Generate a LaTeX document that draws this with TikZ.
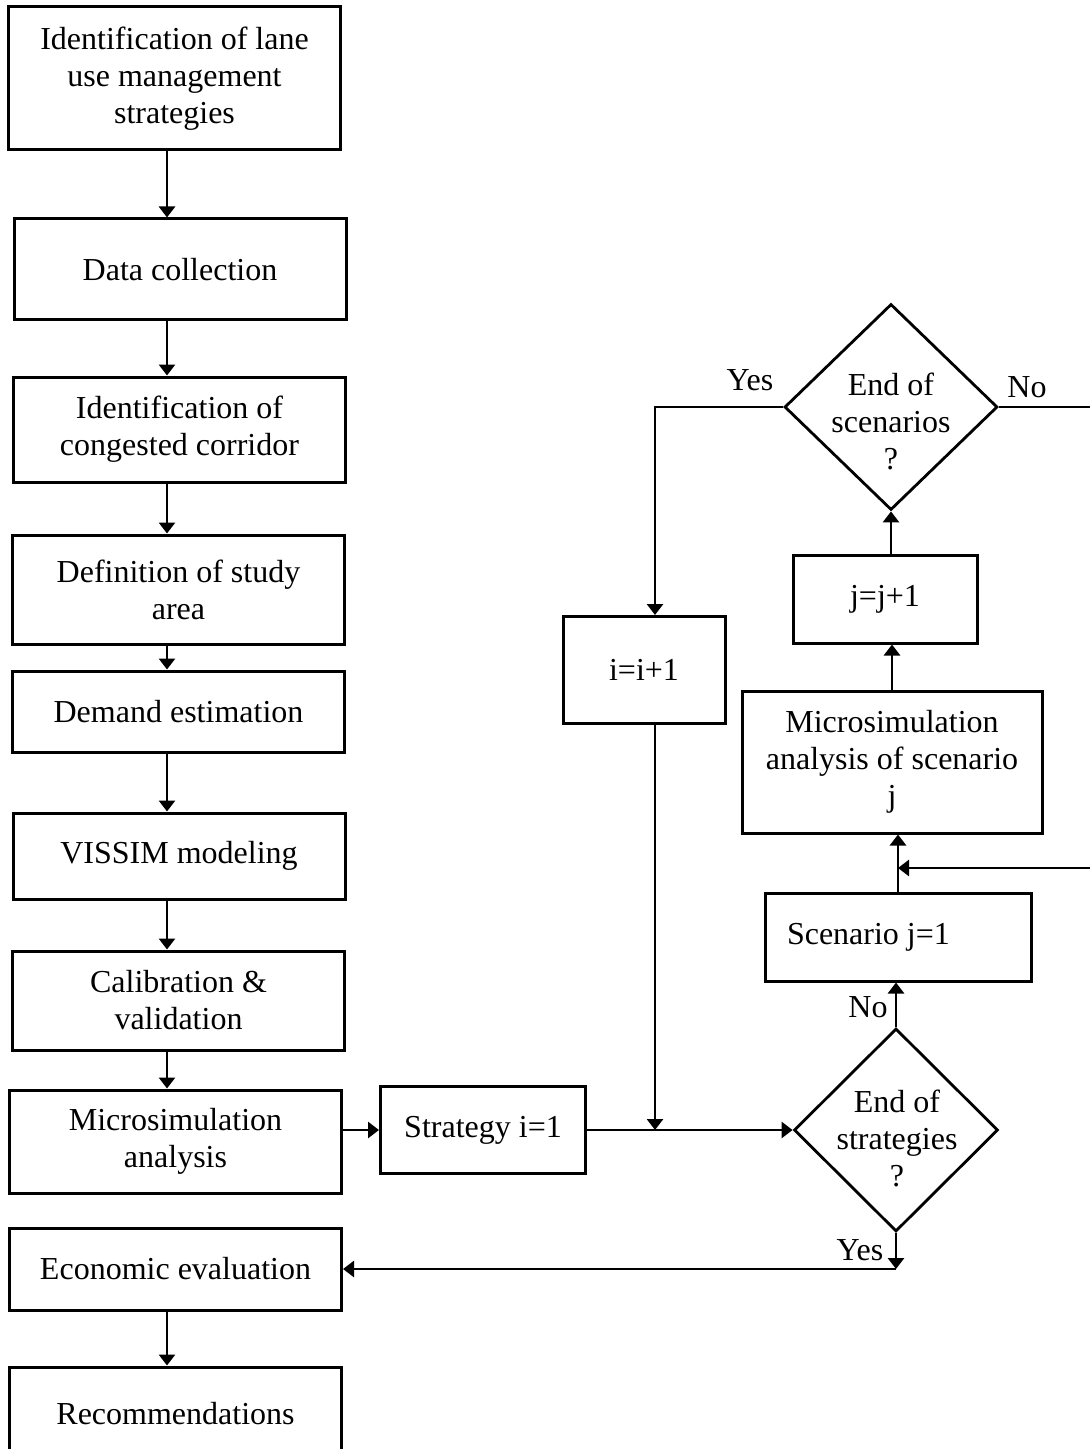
\documentclass[tikz,border=0pt]{standalone}
\usepackage{fontspec}
\setmainfont{Liberation Serif}
\usetikzlibrary{shapes.geometric,arrows.meta}
\tikzset{
  box/.style={draw,line width=1.5pt,minimum width=166pt,inner sep=0pt,align=center},
  dec/.style={draw,diamond,line width=1.4pt,inner sep=0pt},
  arr/.style={line width=1.4pt,-{Triangle[length=5.5pt,width=8pt]}}
}
\begin{document}
\begin{tikzpicture}[x=0.5pt,y=-0.5pt,font=\fontsize{16}{18.5}\selectfont]
\useasboundingbox (0,0) rectangle (1089,1449);
\foreach \n/\x/\y/\h/\t in {1/174.5/78.5/143/{Identification of lane\\use management\\strategies},
  2/180/269.5/101/{Data collection},
  3/179.5/429.5/105/{Identification of\\congested corridor},
  4/178.5/589.5/109/{Definition of study\\area},
  5/178.5/711.5/81/{Demand estimation},
  6/179/856/86/{VISSIM modeling},
  7/178.5/1000.5/99/{Calibration \&\\validation},
  8/175.5/1141.5/103/{Microsimulation\\analysis},
  9/175.5/1269/82/{Economic evaluation},
  10/175.5/1413.5/93/{Recommendations}}
  \node[box,minimum height=\h*0.5pt] (l\n) at (\x,\y) {\t};
\coordinate (ax) at (167,0);
\foreach \a/\b in {1/2,2/3,3/4,4/5,5/6,6/7,7/8,9/10}
  \draw[arr] (l\a.south -| ax) -- (l\b.north -| ax);

\node[box,minimum width=102.5pt,minimum height=43.5pt] (strat) at (483,1130) {Strategy i=1};
\node[dec,minimum width=102pt,minimum height=101.5pt] (dstr) at (896,1130) {};
\node[align=center] (tstr) at (897,1138) {End of\\strategies\\?};
\node[box,minimum width=81pt,minimum height=53.5pt] (iinc) at (644,670) {i=i+1};
\node[box,minimum width=133pt,minimum height=44pt,inner xsep=11pt,text width=111pt,align=flush left] (scen) at (898,937) {Scenario j=1};
\node[box,minimum width=150pt,minimum height=71pt] (msj) at (892,762) {Microsimulation\\analysis of scenario\\j};
\node[box,minimum width=92pt,minimum height=44pt] (jinc) at (885,599) {j=j+1};
\node[dec,minimum width=106.5pt,minimum height=103pt] (dscn) at (891,407) {};
\node[align=center] (tscn) at (891,421) {End of\\scenarios\\?};

\node (yes1) at (750,380) {Yes};
\node (no1) at (1027,387) {No};
\node (no2) at (868,1007) {No};
\node (yes2) at (860,1250) {Yes};

\draw[arr] (strat.west -| l8.east) -- (strat.west);
\draw[arr] (strat) -- (dstr);
\coordinate (ix) at (655,0);
\draw[arr] (dscn.west) -| (iinc.north -| ix);
\draw[arr] (iinc.south -| ix) -- (strat.east -| ix);
\draw[arr] (dstr.north) -- (dstr.north |- scen.south);
\draw[arr] (scen.north) -- (msj.south -| scen.north);
\coordinate (rx) at (1100,868);
\draw[arr] (dscn.east) -- (dscn.east -| rx) -- (rx) -- (rx -| scen.north);
\draw[arr] (msj.north) -- (msj.north |- jinc.south);
\draw[arr] (jinc.north -| dscn.south) -- (dscn.south);
\draw[arr] (dstr.south) -- (dstr.south |- l9.east);
\draw[arr] (dstr.south |- l9.east) -- (l9.east);
\end{tikzpicture}
\end{document}
